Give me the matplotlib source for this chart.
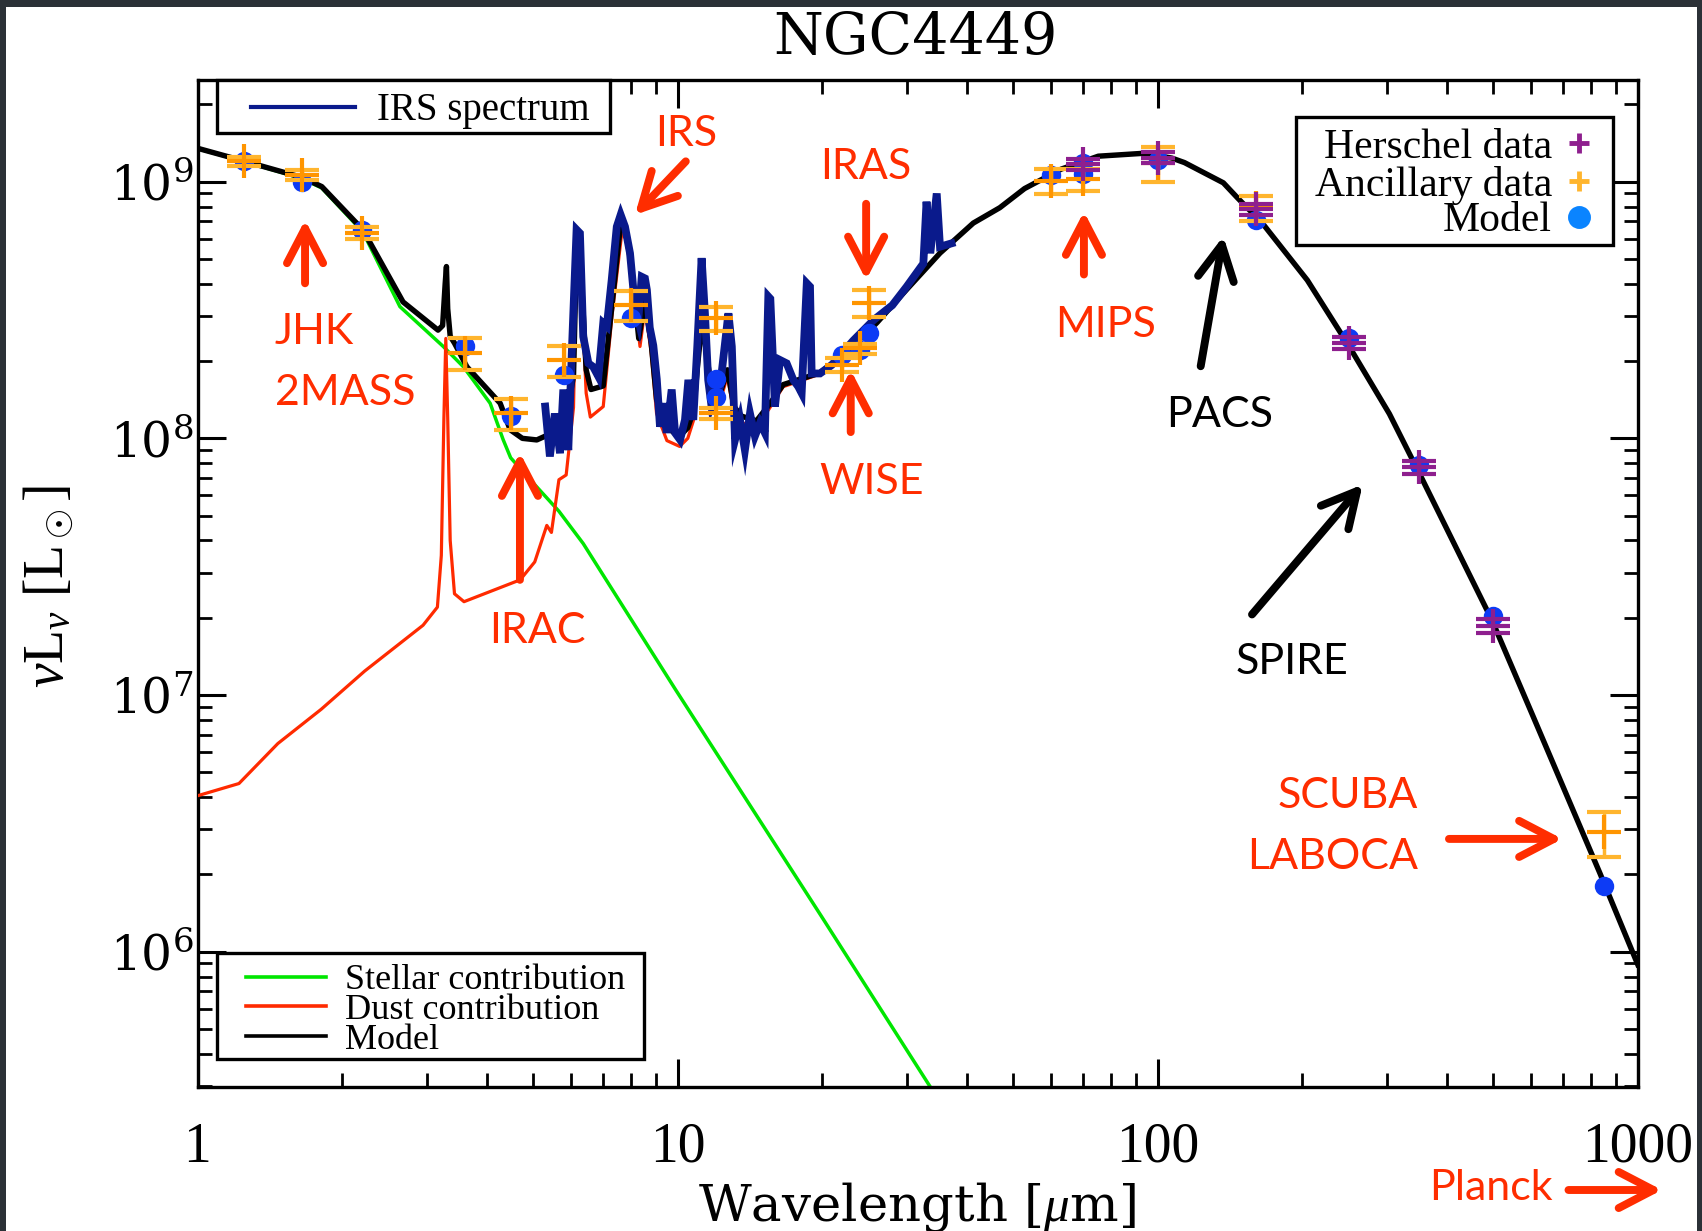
import numpy as np
import matplotlib
matplotlib.use("Agg")
import matplotlib.pyplot as plt
from matplotlib.patches import Rectangle
from matplotlib.lines import Line2D
from matplotlib.transforms import offset_copy
from matplotlib.ticker import FuncFormatter, LogLocator, NullFormatter

plt.rcParams["mathtext.fontset"] = "custom"
plt.rcParams["mathtext.rm"] = "Liberation Serif"
plt.rcParams["mathtext.it"] = "Liberation Serif:italic"
plt.rcParams["mathtext.sf"] = "Liberation Serif"

SERIF = "Liberation Serif"
WIDE_SERIF = "DejaVu Serif"
SANS = "Lato"

# ---------------- SED components (wavelength in micron, nuL_nu in L_sun) -------------
stellar_wl = [1.0, 1.256, 1.648, 1.815, 2.21, 2.64, 3.25, 3.58, 4.07, 4.33, 4.49,
              5.04, 5.66, 6.36, 9.9, 19.9, 34.5]
stellar_L = [1.345e9, 1.195e9, 1.03e9, 9.45e8, 6.37e8, 3.26e8, 2.28e8, 1.9e8, 1.37e8,
             9.9e7, 8.4e7, 6.6e7, 5.2e7, 3.89e7, 1.05e7, 1.38e6, 2.75e5]

dust_wl = [1.0, 1.22, 1.47, 1.81, 2.23, 2.95, 3.16, 3.22, 3.26, 3.29, 3.32, 3.36, 3.43,
           3.59, 4.70, 5.04, 5.34, 5.46, 5.66, 5.86, 6.07, 6.15, 6.22, 6.3, 6.45, 6.58,
           7.0, 7.3, 7.65, 7.8, 8.0, 8.35, 8.55, 8.8, 9.04, 9.5, 10.1, 10.5, 10.8, 11.0,
           11.25, 11.5, 11.8, 12.2, 12.7, 13.1, 13.6, 14.6, 15.5, 16.6, 19.8, 22.5, 26.0,
           30.0, 35.2, 41.3, 46.9, 52.8, 63.0, 75.2, 93.4, 107.0, 113.7, 137.0, 146.8,
           165.0, 205.0, 249.5, 303.8, 355.4, 496.6, 604.0, 834.0, 1000.0]
dust_L = [4.05e6, 4.52e6, 6.47e6, 8.8e6, 1.24e7, 1.87e7, 2.2e7, 3.5e7, 1.2e8, 2.45e8,
          1.2e8, 4.0e7, 2.48e7, 2.31e7, 2.81e7, 3.3e7, 4.58e7, 4.3e7, 6.9e7, 7.2e7,
          1.32e8, 4.4e8, 5.7e8, 3.9e8, 1.5e8, 1.21e8, 1.33e8, 3.0e8, 6.3e8, 6.0e8,
          4.5e8, 2.28e8, 3.2e8, 2.2e8, 1.25e8, 9.8e7, 9.3e7, 1.0e8, 1.18e8, 1.8e8,
          2.8e8, 2.0e8, 1.4e8, 1.35e8, 1.75e8, 1.25e8, 1.15e8, 1.11e8, 1.3e8, 1.59e8,
          1.78e8, 2.16e8, 2.81e8, 3.79e8, 5.27e8, 6.9e8, 7.92e8, 9.4e8, 1.12e9,
          1.257e9, 1.29e9, 1.236e9, 1.187e9, 9.9e8, 8.63e8, 6.91e8, 4.13e8, 2.31e8,
          1.246e8, 6.95e7, 1.96e7, 8.33e6, 2.02e6, 8.9e5]

model_wl = [1.0, 1.256, 1.648, 1.815, 2.21, 2.68, 3.17, 3.24, 3.28, 3.30, 3.32, 3.36,
            3.43, 3.64, 4.27, 4.48, 4.75, 5.09, 5.3, 5.5, 5.66, 5.86, 6.07, 6.15, 6.22,
            6.3, 6.45, 6.6, 7.0, 7.3, 7.6, 7.8, 8.0, 8.3, 8.55, 8.8, 9.04, 9.5, 10.1,
            10.5, 10.8, 11.0, 11.25, 11.5, 11.8, 12.2, 12.7, 13.1, 13.6, 14.6, 15.5,
            16.6, 19.8, 22.5, 26.0, 30.0, 35.2, 41.3, 46.9, 52.8, 63.0, 75.2, 93.4,
            107.0, 113.7, 137.0, 146.8, 165.0, 205.0, 249.5, 303.8, 355.4, 496.6,
            604.0, 834.0, 1000.0]
model_L = [1.35e9, 1.2e9, 1.04e9, 9.57e8, 6.5e8, 3.4e8, 2.64e8, 2.75e8, 4.0e8, 4.67e8,
           3.2e8, 2.5e8, 2.35e8, 1.9e8, 1.37e8, 1.08e8, 1.0e8, 9.86e7, 1.02e8, 1.0e8,
           1.2e8, 1.2e8, 1.75e8, 4.8e8, 6.1e8, 4.3e8, 1.85e8, 1.55e8, 1.6e8, 3.3e8,
           6.7e8, 6.4e8, 4.8e8, 2.45e8, 3.4e8, 2.4e8, 1.42e8, 1.1e8, 1.02e8, 1.1e8,
           1.28e8, 1.9e8, 2.9e8, 2.1e8, 1.5e8, 1.45e8, 1.85e8, 1.33e8, 1.22e8, 1.17e8,
           1.35e8, 1.62e8, 1.8e8, 2.17e8, 2.82e8, 3.8e8, 5.27e8, 6.9e8, 7.92e8, 9.4e8,
           1.12e9, 1.257e9, 1.29e9, 1.236e9, 1.187e9, 9.9e8, 8.63e8, 6.91e8, 4.13e8,
           2.31e8, 1.246e8, 6.95e7, 1.96e7, 8.33e6, 2.02e6, 8.9e5]

# Spitzer/IRS low-resolution spectrum
irs_wl = [5.30, 5.42, 5.55, 5.69, 5.78, 5.92, 6.02, 6.16, 6.26, 6.36, 6.52, 6.67, 6.84,
          7.0, 7.12, 7.29, 7.47, 7.61, 7.77, 7.96, 8.15, 8.28, 8.42, 8.55, 8.63, 8.75,
          8.9, 9.05, 9.19, 9.34, 9.49, 9.72, 9.88, 10.12, 10.36, 10.53, 10.78, 10.99,
          11.22, 11.40, 11.58, 11.77, 12.26, 12.76, 12.97, 13.17, 13.49, 13.81, 14.15,
          14.49, 14.85, 15.2, 15.45, 15.6, 15.95, 16.34, 16.87, 17.42, 17.84, 18.13,
          18.58, 18.87, 19.02, 19.8, 20.94, 23.2, 25.6, 28.0, 30.0, 32.5, 33.0, 33.6,
          34.65, 35.2, 37.2]
irs_L = [1.33e8, 8.5e7, 1.25e8, 8.75e7, 1.55e8, 9.0e7, 2.15e8, 6.5e8, 6.3e8, 2.49e8,
         1.96e8, 1.9e8, 1.74e8, 2.81e8, 2.73e8, 4.14e8, 6.68e8, 7.43e8, 6.68e8, 5.26e8,
         3.26e8, 2.89e8, 4.26e8, 4.2e8, 3.79e8, 2.7e8, 2.3e8, 1.7e8, 1.11e8, 1.37e8,
         1.05e8, 1.55e8, 1.05e8, 9.87e7, 1.18e8, 1.69e8, 1.18e8, 2.28e8, 5.04e8,
         3.07e8, 1.69e8, 1.33e8, 1.59e8, 3.07e8, 2.28e8, 9.87e7, 1.18e8, 9.0e7,
         1.25e8, 1.02e8, 1.15e8, 1.05e8, 3.57e8, 3.5e8, 1.33e8, 2.02e8, 1.96e8,
         1.69e8, 1.59e8, 1.5e8, 4.02e8, 3.9e8, 1.79e8, 1.79e8, 1.93e8, 2.4e8, 2.89e8,
         3.3e8, 3.9e8, 4.8e8, 8.36e8, 5.26e8, 9.0e8, 5.58e8, 5.75e8]

# Photometry
anc_wl = [1.25, 1.65, 2.2, 3.6, 4.5, 5.8, 8.0, 12.0, 12.0, 22.0, 24.0, 25.0, 60.0,
          70.0, 100.0, 160.0, 850.0]
anc_L = [1.2e9, 1.063e9, 6.3e8, 2.15e8, 1.25e8, 2.02e8, 3.31e8, 1.25e8, 2.94e8, 1.93e8,
         2.24e8, 3.38e8, 1.006e9, 1.02e9, 1.18e9, 7.9e8, 2.92e6]
anc_err = [5e7, 5e7, 3.4e7, 3e7, 1.75e7, 2.8e7, 4.5e7, 6e6, 3.2e7, 1.2e7, 1e7, 4.2e7,
           1.1e8, 1e8, 1.8e8, 9e7, 5.9e5]

hers_wl = [70.0, 100.0, 160.0, 250.0, 350.0, 500.0]
hers_L = [1.17e9, 1.24e9, 7.8e8, 2.35e8, 7.72e7, 1.86e7]
hers_err = [6e7, 6e7, 4e7, 1.3e7, 4.5e6, 1.2e6]

mphot_wl = [1.25, 1.65, 2.2, 3.6, 4.5, 5.8, 8.0, 12.0, 12.0, 22.0, 24.0, 25.0, 60.0,
            70.0, 70.0, 100.0, 160.0, 250.0, 350.0, 500.0, 850.0]
mphot_L = [1.2e9, 1.0e9, 6.5e8, 2.28e8, 1.22e8, 1.77e8, 2.94e8, 1.45e8, 1.7e8, 2.12e8,
           2.2e8, 2.57e8, 1.06e9, 1.18e9, 1.07e9, 1.22e9, 7.1e8, 2.45e8, 7.9e7,
           2.03e7, 1.8e6]

x_ticks = [1, 10, 100, 1000]
x_ticklabels = ["1", "10", "100", "1000"]

# ---------------- colours -------------
GREEN = "#00E600"
DUST = "#FF2A00"
NAVY = "#0A1A8C"
BLUE = "#0D3BF5"
LEG_BLUE = "#0A84FF"
ORANGE_L = "#FFB52E"
ORANGE_D = "#FF9500"
PURPLE = "#8E1F8E"
ANNOT_RED = "#FF2D00"

W, H = 1702, 1231
fig = plt.figure(figsize=(W / 100, H / 100), dpi=100, facecolor="white")

ax_l, ax_r, ax_t, ax_b = 197.5, 1637.8, 80.0, 1087.0
ax = fig.add_axes([ax_l / W, 1 - ax_b / H, (ax_r - ax_l) / W, (ax_b - ax_t) / H])
ax.set_xscale("log")
ax.set_yscale("log")
ax.set_xlim(1, 1000)
ax.set_ylim(2.97e5, 2.49e9)

ax.plot(stellar_wl, stellar_L, color=GREEN, lw=2.5, zorder=2)
ax.plot(dust_wl, dust_L, color=DUST, lw=2.3, zorder=3)
ax.plot(model_wl, model_L, color="black", lw=3.9, zorder=4, solid_joinstyle="round")
ax.plot(irs_wl, irs_L, color=NAVY, lw=5.6, zorder=5, solid_joinstyle="miter")

ax.plot(mphot_wl, mphot_L, "o", color=BLUE, ms=14, mew=0, zorder=6)
ax.errorbar(anc_wl, anc_L, yerr=anc_err, fmt="+", color=ORANGE_D, ecolor=ORANGE_L,
            ms=24, mew=3.0, elinewidth=2.5, capsize=12, capthick=3.0, zorder=7)
ax.errorbar(hers_wl, hers_L, yerr=hers_err, fmt="+", color=PURPLE, ecolor=PURPLE,
            ms=24, mew=3.0, elinewidth=2.5, capsize=12, capthick=3.0, zorder=8)

# ---------------- axes styling -------------
for s in ax.spines.values():
    s.set_linewidth(2.4)
ax.tick_params(which="both", direction="in", top=True, right=True, colors="black")
ax.tick_params(which="major", length=20, width=2.2)
ax.tick_params(which="minor", length=10, width=2.0)
ax.tick_params(axis="x", which="major", pad=25, labelsize=40)
ax.tick_params(axis="y", which="major", pad=3, labelsize=35)
ax.xaxis.set_minor_locator(LogLocator(base=10, subs=np.arange(2, 10), numticks=40))
ax.yaxis.set_major_locator(LogLocator(base=10, numticks=10))
ax.yaxis.set_minor_locator(LogLocator(base=10, subs=np.arange(2, 10), numticks=40))
ax.set_xticks(x_ticks)
ax.set_xticklabels(x_ticklabels)
ax.xaxis.set_minor_formatter(NullFormatter())
ax.yaxis.set_minor_formatter(NullFormatter())
ax.yaxis.set_major_formatter(
    FuncFormatter(lambda v, _: r"$\mathregular{10^{%d}}$" % int(round(np.log10(v)))))
for lab in ax.get_xticklabels():
    lab.set_fontfamily(SERIF)
for lab in ax.get_yticklabels():
    lab.set_fontfamily(WIDE_SERIF)

fig.text(915 / W, 1 - 54 / H, "NGC4449", fontsize=41, family=WIDE_SERIF,
         ha="center", va="baseline")
fig.text(917 / W, 1 - 1220 / H, r"Wavelength [$\mu$m]", fontsize=37, family=WIDE_SERIF,
         ha="center", va="baseline")
fig.text(49 / W, 1 - 586 / H, r"$\nu$L$_\nu$ [L$_\odot$]", fontsize=40, family=SERIF,
         rotation=90, ha="center", va="center")

# text placed with va="center" sits a little high; nudge it down to centre the capitals
ax_text_tr = offset_copy(ax.transAxes, fig=fig, y=-3, units="points")
data_text_tr = offset_copy(ax.transData, fig=fig, y=-3, units="points")
fig_text_tr = offset_copy(fig.transFigure, fig=fig, y=-3, units="points")


# ---------------- legends (drawn in axes fraction) -------------
def box(x0, y0, x1, y1):
    ax.add_patch(Rectangle((x0, y0), x1 - x0, y1 - y0, transform=ax.transAxes,
                           facecolor="white", edgecolor="black", lw=2.4, zorder=9,
                           clip_on=False))


box(0.0135, 0.9474, 0.2864, 1.0)
ax.add_line(Line2D([0.0371, 0.1093], [0.9735, 0.9735], transform=ax.transAxes,
                   color=NAVY, lw=3.0, zorder=10))
ax.text(0.1246, 0.9735, "IRS spectrum", transform=ax_text_tr, fontsize=28,
        family=SERIF, va="center", ha="left", zorder=10)

box(0.7627, 0.8361, 0.9831, 0.9636)
right_rows = [("Herschel data", 0.9372, "+", PURPLE),
              ("Ancillary data", 0.8997, "+", ORANGE_L),
              ("Model", 0.8643, "o", LEG_BLUE)]
for label_txt, yy, mk, col in right_rows:
    ax.text(0.9404, yy, label_txt, transform=ax_text_tr, fontsize=30, family=SERIF,
            va="center", ha="right", zorder=10)
    ax.add_line(Line2D([0.9592], [yy], transform=ax.transAxes, marker=mk, color=col,
                       ms=15 if mk == "+" else 13, mew=3.5, ls="none", zorder=10))

box(0.0135, 0.0278, 0.3098, 0.1331)
bottom_rows = [("Stellar contribution", 0.1095, GREEN),
               ("Dust contribution", 0.0804, DUST),
               ("Model", 0.0506, "black")]
for label_txt, yy, col in bottom_rows:
    ax.add_line(Line2D([0.0335, 0.0892], [yy, yy], transform=ax.transAxes,
                       color=col, lw=2.6, zorder=10))
    ax.text(0.1024, yy, label_txt, transform=ax_text_tr, fontsize=26, family=SERIF,
            va="center", ha="left", zorder=10)


# ---------------- instrument annotations -------------
def arrow(tail, head, color, coords="data"):
    ax.annotate("", xy=head, xytext=tail, xycoords=coords, textcoords=coords,
                arrowprops=dict(arrowstyle="->,head_length=1.25,head_width=0.65",
                                lw=5.7, color=color, shrinkA=0, shrinkB=0,
                                mutation_scale=20, capstyle="round",
                                joinstyle="round"),
                annotation_clip=False, zorder=11)


def label(x, y, s, color, ha="center", coords="data"):
    tr = data_text_tr if coords == "data" else fig_text_tr
    ax.text(x, y, s, transform=tr, color=color, fontsize=31, family=SANS,
            ha=ha, va="center", zorder=11, clip_on=False)


label(10.4, 1.59e9, "IRS", ANNOT_RED)
arrow((10.4, 1.2e9), (8.15, 7.43e8), ANNOT_RED)

label(24.7, 1.18e9, "IRAS", ANNOT_RED)
arrow((24.7, 8.2e8), (24.7, 4.14e8), ANNOT_RED)

label(1.45, 2.69e8, "JHK", ANNOT_RED, ha="left")
label(1.45, 1.557e8, "2MASS", ANNOT_RED, ha="left")
arrow((1.675, 4.02e8), (1.675, 7.1e8), ANNOT_RED)

label(5.095, 1.84e7, "IRAC", ANNOT_RED)
arrow((4.695, 2.81e7), (4.695, 8.8e7), ANNOT_RED)

label(25.4, 7.01e7, "WISE", ANNOT_RED)
arrow((22.94, 1.058e8), (22.94, 1.846e8), ANNOT_RED)

label(77.7, 2.87e8, "MIPS", ANNOT_RED)
arrow((70.2, 4.35e8), (70.2, 7.65e8), ANNOT_RED)

label(134.8, 1.28e8, "PACS", "black")
arrow((122.9, 1.91e8), (137.0, 6.13e8), "black")

label(190.2, 1.39e7, "SPIRE", "black")
arrow((157.2, 2.06e7), (267.3, 6.61e7), "black")

label(349.2, 4.18e6, "SCUBA", ANNOT_RED, ha="right")
label(349.2, 2.42e6, "LABOCA", ANNOT_RED, ha="right")
arrow((404.3, 2.75e6), (696.6, 2.75e6), ANNOT_RED)

label(1428.8 / W, 1 - 1184 / H, "Planck", ANNOT_RED, ha="left", coords="figure")
arrow((1568.5 / W, 1 - 1190 / H), (1662 / W, 1 - 1190 / H), ANNOT_RED,
      coords="figure fraction")

# dark frame around the slide
frame_col = "#2B3137"
for (x0, y0, w, h) in [(0, 1 - 7 / H, 1, 7 / H), (0, 0, 6 / W, 1), (1 - 5 / W, 0, 5 / W, 1)]:
    fig.add_artist(Rectangle((x0, y0), w, h, transform=fig.transFigure,
                             facecolor=frame_col, edgecolor="none", zorder=20))

fig.savefig("out.png", dpi=100, facecolor="white")
